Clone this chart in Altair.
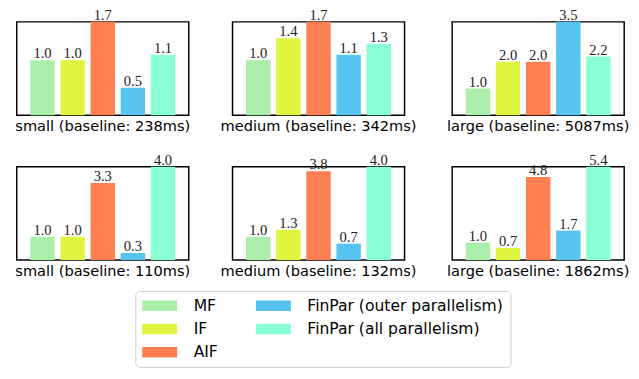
import altair as alt
import pandas as pd

variants = ["MF", "IF", "AIF", "FinPar (outer parallelism)", "FinPar (all parallelism)"]
colors = ["#aaeeaa", "#e0f440", "#ff7f50", "#56c3f0", "#88ffd4"]

panel_titles = [
    "small (baseline: 238ms)",
    "medium (baseline: 342ms)",
    "large (baseline: 5087ms)",
    "small (baseline: 110ms)",
    "medium (baseline: 132ms)",
    "large (baseline: 1862ms)",
]

small_238 = [1.0, 1.0, 1.7, 0.5, 1.1]
medium_342 = [1.0, 1.4, 1.7, 1.1, 1.3]
large_5087 = [1.0, 2.0, 2.0, 3.5, 2.2]
small_110 = [1.0, 1.0, 3.3, 0.3, 4.0]
medium_132 = [1.0, 1.3, 3.8, 0.7, 4.0]
large_1862 = [1.0, 0.7, 4.8, 1.7, 5.4]
speedups = [small_238, medium_342, large_5087, small_110, medium_132, large_1862]

rows = []
for pi, vals in enumerate(speedups):
    for v, val in zip(variants, vals):
        rows.append({"panel": pi, "variant": v, "speedup": val, "label": f"{val:.1f}"})
df = pd.DataFrame(rows)

color_scale = alt.Scale(domain=variants, range=colors)

legend = alt.Legend(
    title=None, orient="none", legendX=122, legendY=277, columns=2,
    symbolType="M-1,-0.3H1V0.3H-1Z", symbolSize=1296, symbolStrokeWidth=0,
    symbolOpacity=1, clipHeight=16,
    labelFont="DejaVu Sans", labelFontSize=16, labelColor="black", labelLimit=400,
    labelOffset=17, columnPadding=39, rowPadding=8, padding=7,
    strokeColor="#cccccc", fillColor="white", cornerRadius=4,
)


def panel(i):
    base = alt.Chart(df).transform_filter(alt.datum.panel == i)
    x = alt.X("variant:N", sort=variants, axis=None,
              scale=alt.Scale(paddingInner=0.19, paddingOuter=0.45))
    y = alt.Y("speedup:Q", axis=None,
              scale=alt.Scale(domain=[0, max(speedups[i])], nice=False, zero=True))
    bars = base.mark_bar().encode(
        x=x, y=y,
        color=alt.Color("variant:N", scale=color_scale, legend=legend),
    )
    text = base.mark_text(baseline="bottom", dy=1, font="Liberation Serif",
                          fontSize=15, color="#222").encode(x=x, y=y, text="label:N")
    return alt.layer(bars, text).properties(
        width=177, height=96,
        title=alt.TitleParams(panel_titles[i], orient="bottom", offset=4,
                              font="DejaVu Sans", fontSize=15, fontWeight="normal",
                              color="black"),
    )


row1 = alt.hconcat(panel(0), panel(1), panel(2), spacing=28).resolve_scale(y="independent")
row2 = alt.hconcat(panel(3), panel(4), panel(5), spacing=28).resolve_scale(y="independent")

chart = alt.vconcat(row1, row2, spacing=18).resolve_scale(y="independent").properties(
    padding={"left": 6, "top": -6, "right": 0, "bottom": 0}
).configure_view(stroke="black", strokeWidth=1.5)

chart.save("out.html", embed_options={"renderer": "svg", "actions": False})
